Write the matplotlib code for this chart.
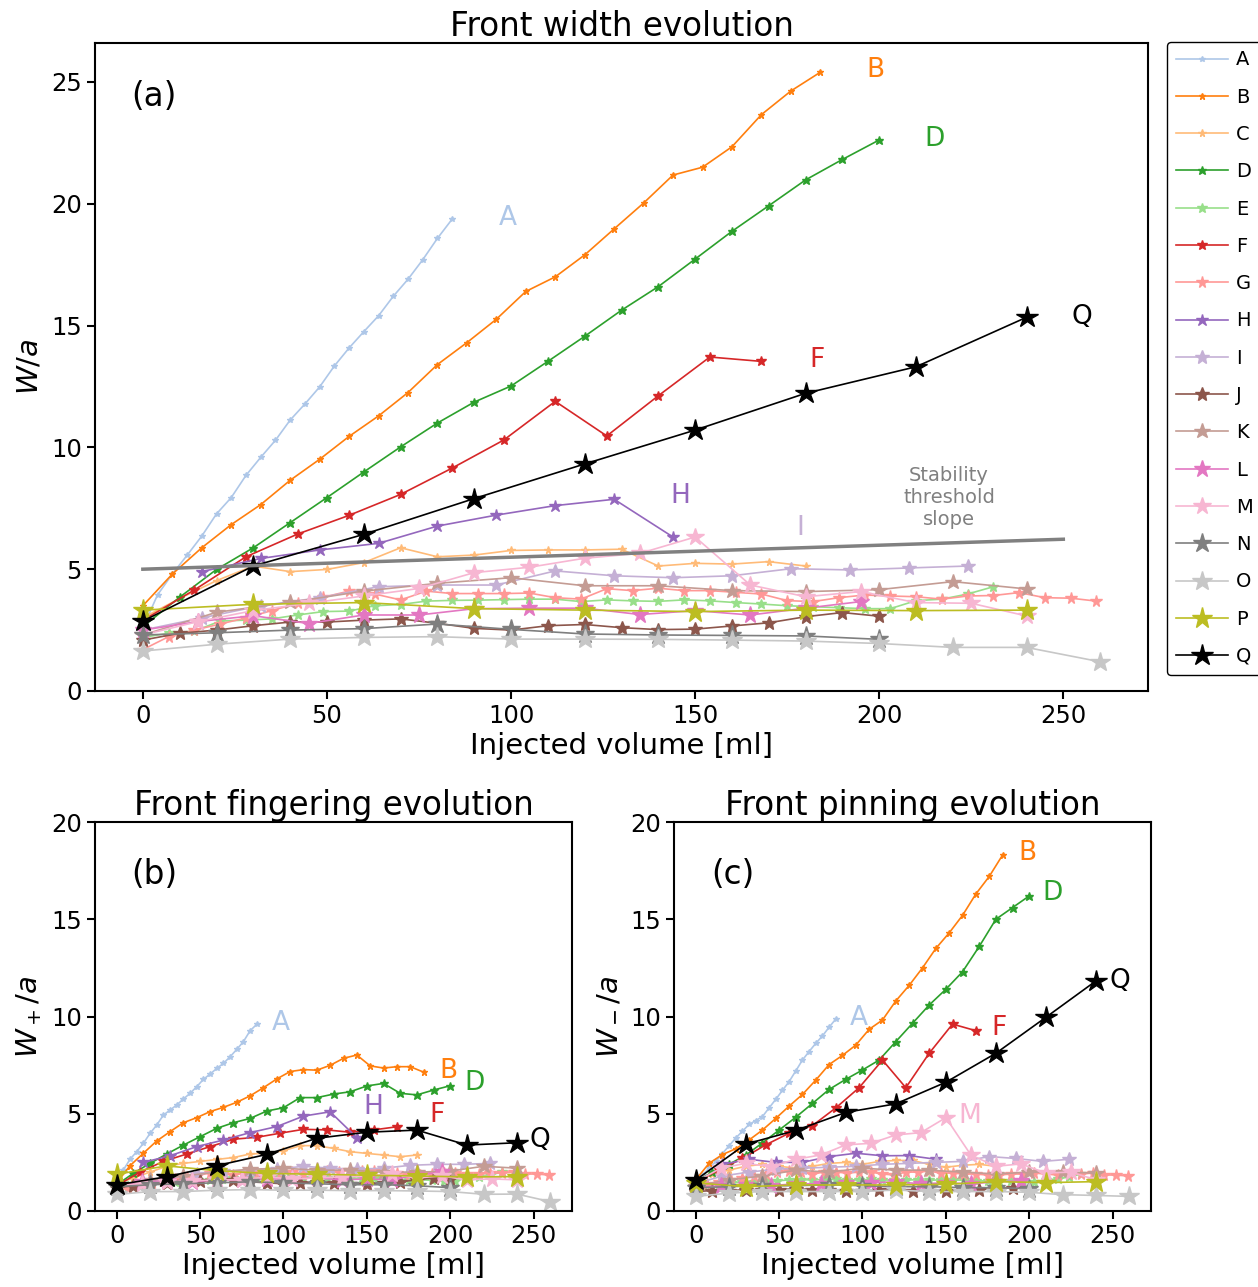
import matplotlib
matplotlib.use("Agg")
import matplotlib.pyplot as plt

plt.rcParams['font.family'] = ['DejaVu Sans']
plt.rcParams['axes.linewidth'] = 1.5
plt.rcParams['xtick.major.width'] = 1.5
plt.rcParams['ytick.major.width'] = 1.5
plt.rcParams['xtick.major.size'] = 6
plt.rcParams['ytick.major.size'] = 6

names = ['A', 'B', 'C', 'D', 'E', 'F', 'G', 'H', 'I', 'J', 'K', 'L', 'M', 'N', 'O', 'P', 'Q']
colors = ['#aec7e8', '#ff7f0e', '#ffbb78', '#2ca02c', '#98df8a', '#d62728', '#ff9896',
          '#9467bd', '#c5b0d5', '#8c564b', '#c49c94', '#e377c2', '#f7b6d2', '#7f7f7f',
          '#c7c7c7', '#bcbd22', '#000000']

# injected volume [ml] for each experiment
x_A = [0, 4, 8, 12, 16, 20, 24, 28, 32, 36, 40, 44, 48, 52, 56, 60, 64, 68, 72, 76, 80, 84]
x_B = [0, 8, 16, 24, 32, 40, 48, 56, 64, 72, 80, 88, 96, 104, 112, 120, 128, 136, 144, 152,
       160, 168, 176, 184]
x_C = [0, 10, 20, 30, 40, 50, 60, 70, 80, 90, 100, 110, 120, 130, 140, 150, 160, 170, 180]
x_D = [0, 10, 20, 30, 40, 50, 60, 70, 80, 90, 100, 110, 120, 130, 140, 150, 160, 170, 180,
       190, 200]
x_E = [0, 7, 14, 21, 28, 35, 42, 49, 56, 63, 70, 77, 84, 91, 98, 105, 112, 119, 126, 133,
       140, 147, 154, 161, 168, 175, 182, 189, 196, 203, 210, 217, 224, 231]
x_F = [0, 14, 28, 42, 56, 70, 84, 98, 112, 126, 140, 154, 168]
x_G = [0, 7, 14, 21, 28, 35, 42, 49, 56, 63, 70, 77, 84, 91, 98, 105, 112, 119, 126, 133,
       140, 147, 154, 161, 168, 175, 182, 189, 196, 203, 210, 217, 224, 231, 238, 245, 252, 259]
x_H = [16, 32, 48, 64, 80, 96, 112, 128, 144]
x_I = [0, 16, 32, 48, 64, 80, 96, 112, 128, 144, 160, 176, 192, 208, 224]
x_J = [0, 10, 20, 30, 40, 50, 60, 70, 80, 90, 100, 110, 120, 130, 140, 150, 160, 170, 180,
       190, 200]
x_K = [0, 20, 40, 60, 80, 100, 120, 140, 160, 180, 200, 220, 240]
x_L = [0, 15, 30, 45, 60, 75, 90, 105, 120, 135, 150, 165, 180, 195]
x_M = [0, 15, 30, 45, 60, 75, 90, 105, 120, 135, 150, 165, 180, 195, 210, 225, 240]
x_N = [0, 20, 40, 60, 80, 100, 120, 140, 160, 180, 200]
x_O = [0, 20, 40, 60, 80, 100, 120, 140, 160, 180, 200, 220, 240, 260]
x_P = [0, 30, 60, 90, 120, 150, 180, 210, 240]
x_Q = [0, 30, 60, 90, 120, 150, 180, 210, 240]

# front width W/a
W_A = [2.6, 3.95, 4.8, 5.57, 6.36, 7.27, 7.94, 8.85, 9.59, 10.29, 11.12, 11.78, 12.48, 13.34,
       14.08, 14.75, 15.4, 16.2, 16.9, 17.7, 18.58, 19.37]
W_B = [3.5, 4.8, 5.88, 6.83, 7.65, 8.65, 9.51, 10.45, 11.29, 12.25, 13.4, 14.3, 15.26, 16.4,
       17.0, 17.9, 18.97, 20.03, 21.18, 21.5, 22.34, 23.66, 24.63, 25.4]
W_C = [3.0, 3.8, 4.53, 5.13, 4.9, 4.99, 5.27, 5.88, 5.51, 5.58, 5.77, 5.79, 5.79, 5.82, 5.13,
       5.24, 5.21, 5.31, 5.13]
W_D = [2.64, 3.85, 4.99, 5.88, 6.91, 7.94, 8.99, 10.02, 11.0, 11.86, 12.52, 13.53, 14.56,
       15.63, 16.6, 17.73, 18.87, 19.92, 20.98, 21.82, 22.62]
W_E = [2.2, 2.37, 2.46, 2.87, 2.91, 2.96, 3.12, 3.26, 3.28, 3.5, 3.55, 3.69, 3.72, 3.73, 3.75,
       3.77, 3.77, 3.67, 3.74, 3.7, 3.68, 3.74, 3.7, 3.63, 3.57, 3.5, 3.46, 3.42, 3.38, 3.38,
       3.71, 3.77, 3.98, 4.28]
W_F = [2.9, 4.15, 5.51, 6.44, 7.21, 8.07, 9.15, 10.3, 11.89, 10.47, 12.12, 13.71, 13.53]
W_G = [1.7, 2.23, 2.5, 2.75, 3.0, 3.3, 3.6, 3.85, 4.1, 3.98, 3.74, 4.1, 4.0, 4.0, 4.0, 4.02,
       3.83, 3.77, 4.2, 4.12, 4.22, 4.12, 4.12, 4.05, 3.98, 3.71, 3.67, 3.83, 3.94, 3.9, 3.87,
       3.77, 3.9, 3.92, 4.04, 3.83, 3.81, 3.69]
W_H = [4.9, 5.44, 5.79, 6.06, 6.77, 7.22, 7.61, 7.87, 6.32]
W_I = [2.5, 3.0, 3.5, 3.83, 4.28, 4.35, 4.35, 4.93, 4.73, 4.65, 4.73, 5.02, 4.97, 5.05, 5.13]
W_J = [2.09, 2.37, 2.5, 2.68, 2.83, 2.83, 2.91, 2.96, 2.78, 2.57, 2.5, 2.68, 2.73, 2.6, 2.52,
       2.54, 2.67, 2.8, 3.05, 3.22, 3.07]
W_K = [2.3, 3.23, 3.64, 4.1, 4.42, 4.65, 4.32, 4.32, 4.12, 4.08, 4.16, 4.49, 4.19]
W_L = [2.5, 2.85, 3.09, 2.77, 3.12, 3.12, 3.38, 3.4, 3.4, 3.14, 3.3, 3.12, 3.4, 3.67]
W_M = [2.3, 2.85, 3.3, 3.6, 3.9, 4.21, 4.86, 5.08, 5.45, 5.65, 6.32, 4.35, 3.87, 4.08, 3.63,
       3.6, 3.08]
W_N = [2.3, 2.39, 2.5, 2.56, 2.75, 2.53, 2.34, 2.3, 2.28, 2.26, 2.12]
W_O = [1.64, 1.92, 2.13, 2.2, 2.23, 2.13, 2.13, 2.12, 2.09, 2.05, 1.95, 1.79, 1.79, 1.2]
W_P = [3.32, 3.56, 3.63, 3.38, 3.32, 3.26, 3.32, 3.3, 3.32]
W_Q = [2.87, 5.13, 6.43, 7.9, 9.32, 10.71, 12.22, 13.31, 15.34]

# fingering W+/a
Wp_A = [1.4, 2.11, 2.66, 3.05, 3.48, 3.99, 4.42, 4.93, 5.19, 5.45, 5.76, 6.05, 6.39, 6.77,
        7.04, 7.33, 7.59, 7.93, 8.31, 8.71, 9.27, 9.6]
Wp_B = [1.45, 2.33, 2.97, 3.6, 4.08, 4.54, 4.8, 5.11, 5.33, 5.59, 5.92, 6.34, 6.79, 7.17,
        7.27, 7.24, 7.49, 7.85, 8.02, 7.46, 7.35, 7.42, 7.42, 7.14]
Wp_C = [1.4, 1.7, 2.0, 2.3, 2.45, 2.55, 2.65, 2.75, 2.93, 2.97, 3.1, 3.36, 3.36, 3.22, 3.05,
        2.96, 2.88, 2.79, 2.88]
Wp_D = [1.34, 1.94, 2.45, 2.93, 3.39, 3.82, 4.25, 4.54, 4.76, 5.14, 5.31, 5.83, 5.83, 6.01,
        6.13, 6.43, 6.56, 6.05, 5.97, 6.22, 6.44]
Wp_E = [1.2, 1.3, 1.35, 1.45, 1.5, 1.5, 1.55, 1.6, 1.6, 1.65, 1.7, 1.7, 1.72, 1.72, 1.75,
        1.75, 1.7, 1.68, 1.7, 1.7, 1.68, 1.7, 1.7, 1.65, 1.62, 1.6, 1.6, 1.58, 1.55, 1.55, 1.7,
        1.75, 1.85, 2.0]
Wp_F = [1.3, 2.0, 2.55, 2.93, 3.31, 3.69, 3.79, 4.0, 4.2, 4.17, 4.05, 4.17, 4.33]
Wp_G = [1.0, 1.2, 1.35, 1.45, 1.55, 1.65, 1.75, 1.85, 1.95, 1.9, 1.85, 1.95, 1.95, 1.95, 1.95,
        2.0, 1.9, 1.85, 2.05, 2.0, 2.1, 2.05, 2.05, 2.0, 1.95, 1.85, 1.85, 1.9, 1.95, 1.95,
        1.9, 1.88, 1.95, 1.95, 2.0, 1.9, 1.9, 1.85]
Wp_H = [2.5, 2.84, 3.31, 3.65, 4.03, 4.34, 4.88, 5.1, 3.77]
Wp_I = [1.3, 1.5, 1.7, 1.9, 2.05, 2.1, 2.15, 2.3, 2.2, 2.15, 2.2, 2.35, 2.4, 2.4, 2.45]
Wp_J = [1.2, 1.3, 1.35, 1.45, 1.5, 1.55, 1.55, 1.6, 1.5, 1.45, 1.4, 1.45, 1.5, 1.45, 1.4, 1.4,
        1.45, 1.5, 1.6, 1.7, 1.65]
Wp_K = [1.3, 1.6, 1.8, 2.0, 2.15, 2.2, 2.1, 2.1, 2.0, 2.0, 2.05, 2.3, 2.2]
Wp_L = [1.3, 1.5, 1.55, 1.5, 1.6, 1.6, 1.65, 1.65, 1.7, 1.6, 1.65, 1.6, 1.85, 2.0]
Wp_M = [1.3, 1.4, 1.5, 1.55, 1.6, 1.6, 1.75, 1.65, 1.7, 1.75, 1.8, 1.9, 1.7, 1.8, 1.6, 1.65,
        1.6]
Wp_N = [1.25, 1.35, 1.4, 1.45, 1.5, 1.45, 1.4, 1.35, 1.35, 1.3, 1.2]
Wp_O = [0.85, 1.0, 1.0, 1.07, 1.1, 1.07, 1.07, 1.05, 1.05, 1.03, 1.0, 0.86, 0.87, 0.48]
Wp_P = [1.89, 2.32, 2.07, 1.93, 1.89, 1.84, 1.8, 1.75, 1.77]
Wp_Q = [1.34, 1.76, 2.33, 2.91, 3.74, 4.05, 4.16, 3.39, 3.51]

# pinning W-/a
Wm_A = [1.5, 1.85, 2.2, 2.55, 2.95, 3.35, 3.75, 4.1, 4.45, 4.65, 4.85, 5.3, 5.74, 6.2, 6.65,
        7.2, 7.76, 8.2, 8.62, 9.0, 9.45, 9.87]
Wm_B = [1.6, 2.45, 2.9, 3.2, 3.65, 4.16, 4.76, 5.39, 5.99, 6.73, 7.53, 8.0, 8.53, 9.34, 9.82,
        10.8, 11.6, 12.5, 13.5, 14.3, 15.2, 16.3, 17.2, 18.3]
Wm_C = [1.5, 1.9, 2.1, 2.3, 2.4, 2.3, 2.2, 2.3, 2.45, 2.5, 2.4, 2.55, 2.6, 2.6, 2.4, 2.25,
        2.35, 2.4, 2.3]
Wm_D = [1.5, 2.0, 2.4, 2.87, 3.5, 4.16, 4.82, 5.53, 6.25, 6.77, 7.25, 7.76, 8.71, 9.65, 10.59,
        11.4, 12.3, 13.6, 15.0, 15.6, 16.2]
Wm_E = [1.3, 1.35, 1.4, 1.45, 1.5, 1.5, 1.55, 1.55, 1.6, 1.6, 1.6, 1.62, 1.62, 1.6, 1.6, 1.62,
        1.6, 1.58, 1.6, 1.6, 1.58, 1.6, 1.6, 1.58, 1.55, 1.55, 1.55, 1.52, 1.5, 1.5, 1.6, 1.65,
        1.75, 1.9]
Wm_F = [1.5, 2.1, 2.7, 3.4, 4.0, 4.39, 5.3, 6.34, 7.76, 6.34, 8.11, 9.61, 9.27]
Wm_G = [1.2, 1.4, 1.5, 1.6, 1.7, 1.8, 1.9, 2.0, 2.05, 2.0, 1.9, 2.0, 2.0, 1.95, 2.0, 2.0, 1.9,
        1.85, 2.0, 2.0, 2.05, 1.95, 1.95, 1.9, 1.9, 1.85, 1.85, 1.9, 1.9, 1.95, 1.9, 1.85, 1.9,
        1.9, 1.95, 1.85, 1.85, 1.8]
Wm_H = [2.4, 2.66, 2.5, 2.5, 2.8, 2.97, 2.84, 2.85, 2.66]
Wm_I = [1.4, 1.8, 2.0, 2.15, 2.2, 2.25, 2.3, 2.4, 2.45, 2.5, 2.55, 2.8, 2.7, 2.55, 2.66]
Wm_J = [1.0, 1.05, 1.05, 1.1, 1.1, 1.1, 1.15, 1.1, 1.1, 1.05, 1.05, 1.1, 1.1, 1.05, 1.05, 1.05,
        1.1, 1.1, 1.15, 1.2, 1.15]
Wm_K = [1.3, 1.6, 1.8, 2.1, 2.0, 2.2, 2.1, 2.1, 2.0, 1.9, 2.0, 2.0, 1.95]
Wm_L = [1.2, 1.3, 1.35, 1.3, 1.4, 1.4, 1.45, 1.45, 1.5, 1.4, 1.45, 1.4, 1.5, 1.55]
Wm_M = [1.5, 2.2, 2.45, 2.28, 2.66, 2.88, 3.4, 3.48, 3.91, 4.03, 4.8, 2.88, 2.3, 2.42, 1.95,
        2.0, 1.6]
Wm_N = [1.2, 1.25, 1.3, 1.3, 1.35, 1.3, 1.25, 1.25, 1.2, 1.2, 1.15]
Wm_O = [0.75, 0.92, 1.0, 1.0, 1.0, 1.0, 1.08, 1.0, 1.0, 1.0, 0.96, 0.84, 0.8, 0.75]
Wm_P = [1.45, 1.25, 1.34, 1.34, 1.34, 1.37, 1.51, 1.46, 1.51]
Wm_Q = [1.59, 3.44, 4.14, 5.07, 5.51, 6.62, 8.11, 9.96, 11.83]

# stability threshold slope line
thr_x = [0, 250]
thr_y = [5.0, 6.23]

xs = [x_A, x_B, x_C, x_D, x_E, x_F, x_G, x_H, x_I, x_J, x_K, x_L, x_M, x_N, x_O, x_P, x_Q]
ws = [W_A, W_B, W_C, W_D, W_E, W_F, W_G, W_H, W_I, W_J, W_K, W_L, W_M, W_N, W_O, W_P, W_Q]
wps = [Wp_A, Wp_B, Wp_C, Wp_D, Wp_E, Wp_F, Wp_G, Wp_H, Wp_I, Wp_J, Wp_K, Wp_L, Wp_M, Wp_N,
       Wp_O, Wp_P, Wp_Q]
wms = [Wm_A, Wm_B, Wm_C, Wm_D, Wm_E, Wm_F, Wm_G, Wm_H, Wm_I, Wm_J, Wm_K, Wm_L, Wm_M, Wm_N,
       Wm_O, Wm_P, Wm_Q]

W, H = 1258, 1287
fig = plt.figure(figsize=(W / 100, H / 100), dpi=100)


def box(x0, y0, x1, y1):
    return [x0 / W, 1 - y1 / H, (x1 - x0) / W, (y1 - y0) / H]


ax_a = fig.add_axes(box(95, 43, 1148, 691))
ax_b = fig.add_axes(box(95, 822, 572, 1211))
ax_c = fig.add_axes(box(674, 822, 1151, 1211))

tick_fs = 17.5
label_fs = 21
title_fs = 23.5
letter_fs = 19


def draw(ax, values):
    for i, (name, c) in enumerate(zip(names, colors)):
        ax.plot(xs[i], values[i], marker='*', ms=4 + 0.75 * i, lw=1.2, color=c, label=name)
    ax.set_xlim(-13, 273)
    ax.set_xticks([0, 50, 100, 150, 200, 250])
    ax.tick_params(labelsize=tick_fs)
    ax.set_xlabel('Injected volume [ml]', fontsize=label_fs, labelpad=3)


draw(ax_a, ws)
ax_a.plot(thr_x, thr_y, color='grey', lw=2.5)
ax_a.set_ylim(0, 26.6)
ax_a.set_yticks([0, 5, 10, 15, 20, 25])
ax_a.set_ylabel('$W/a$', fontsize=label_fs, labelpad=5)
ax_a.set_title('Front width evolution', fontsize=title_fs, pad=5)
ax_a.text(0.056, 0.917, '(a)', transform=ax_a.transAxes, fontsize=title_fs,
          ha='center', va='center')
for lab, lx, ly, c in [('A', 99, 19.4, colors[0]), ('B', 199, 25.5, colors[1]),
                       ('D', 215, 22.66, colors[3]), ('F', 183, 13.6, colors[5]),
                       ('Q', 255, 15.35, colors[16]), ('H', 146, 8.0, colors[7]),
                       ('I', 178.5, 6.7, colors[8])]:
    ax_a.text(lx, ly, lab, color=c, fontsize=letter_fs, ha='center', va='center')
ax_a.text(219, 7.96, 'Stability\nthreshold\nslope', color='grey', fontsize=14,
          ha='center', va='center', linespacing=1.2)

leg = ax_a.legend(loc='upper left', bbox_to_anchor=(1.018, 1.002), borderaxespad=0,
                  fontsize=14, labelspacing=0.94, handlelength=2.7, handletextpad=0.4,
                  borderpad=0.45, edgecolor='black', framealpha=1, fancybox=True)

draw(ax_b, wps)
ax_b.set_ylim(0, 20)
ax_b.set_yticks([0, 5, 10, 15, 20])
ax_b.set_ylabel('$W_+/a$', fontsize=label_fs, labelpad=5)
ax_b.set_title('Front fingering evolution', fontsize=title_fs, pad=5)
ax_b.text(0.124, 0.864, '(b)', transform=ax_b.transAxes, fontsize=title_fs,
          ha='center', va='center')
for lab, lx, ly, c in [('A', 98.6, 9.67, colors[0]), ('B', 199, 7.2, colors[1]),
                       ('D', 214.5, 6.58, colors[3]), ('H', 153.8, 5.35, colors[7]),
                       ('F', 192.3, 4.94, colors[5]), ('Q', 254, 3.65, colors[16])]:
    ax_b.text(lx, ly, lab, color=c, fontsize=letter_fs, ha='center', va='center')

draw(ax_c, wms)
ax_c.set_ylim(0, 20)
ax_c.set_yticks([0, 5, 10, 15, 20])
ax_c.set_ylabel('$W_-/a$', fontsize=label_fs, labelpad=5)
ax_c.set_title('Front pinning evolution', fontsize=title_fs, pad=5)
ax_c.text(0.124, 0.864, '(c)', transform=ax_c.transAxes, fontsize=title_fs,
          ha='center', va='center')
for lab, lx, ly, c in [('A', 97.8, 9.92, colors[0]), ('B', 198.7, 18.4, colors[1]),
                       ('D', 214, 16.35, colors[3]), ('F', 182, 9.4, colors[5]),
                       ('Q', 254.5, 11.83, colors[16]), ('M', 164.5, 4.88, colors[12])]:
    ax_c.text(lx, ly, lab, color=c, fontsize=letter_fs, ha='center', va='center')

fig.savefig('out.png', dpi=100)
